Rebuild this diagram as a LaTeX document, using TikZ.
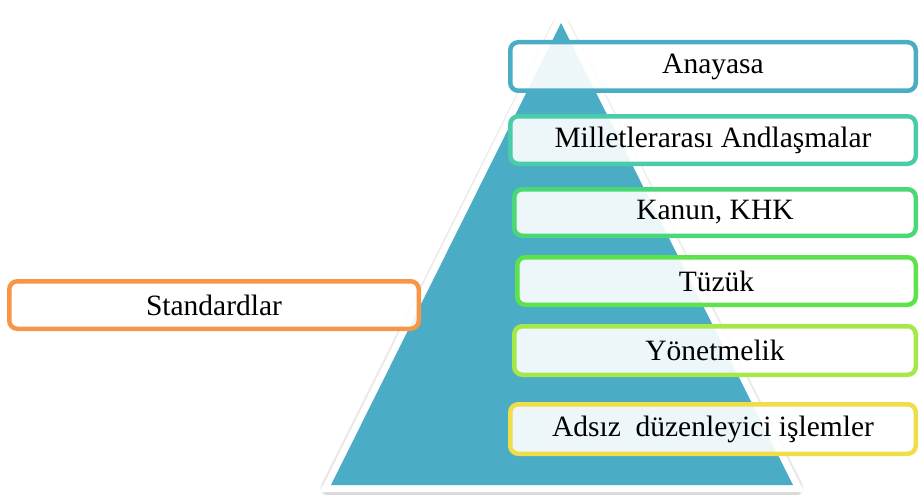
\documentclass[tikz,border=0pt]{standalone}
\usepackage{fontspec}
\setmainfont{Liberation Serif}
\definecolor{pyrteal}{RGB}{75,172,198}
\definecolor{lvlA}{RGB}{75,172,198}
\definecolor{lvlB}{RGB}{74,204,170}
\definecolor{lvlC}{RGB}{74,216,118}
\definecolor{lvlD}{RGB}{92,226,74}
\definecolor{lvlE}{RGB}{166,232,72}
\definecolor{lvlF}{RGB}{240,222,72}
\definecolor{lvlS}{RGB}{247,150,70}
\tikzset{
  levelbox/.style={draw=#1, line width=4.5pt, rounded corners=8pt,
    fill=white, fill opacity=0.9, text opacity=1, inner sep=0pt,
    font=\fontsize{29.5}{34}\selectfont, text=black},
}
\begin{document}
\begin{tikzpicture}[x=1pt,y=-1pt]
\useasboundingbox (0,0) rectangle (919,495);
% pyramid: soft shadow, white rim, teal body
\foreach \w/\o in {20/0.03,18/0.05,16/0.07}
  \draw[line width=\w pt, line join=round, draw=black, opacity=\o]
    (561,26) -- (794,488) -- (330,488) -- cycle;
\draw[line width=14pt, line join=miter, draw=white, fill=white]
  (561,23) -- (793,485) -- (331,485) -- cycle;
\fill[pyrteal] (561,23) -- (793,485) -- (331,485) -- cycle;
% levels
\node[levelbox=lvlA, minimum width=405.5pt, minimum height=48.5pt] (anayasa) at (713,66.5) {Anayasa};
\node[levelbox=lvlB, minimum width=405.5pt, minimum height=47.5pt] (andlasma) at (713,140) {Milletlerarası Andlaşmalar};
\node[levelbox=lvlC, minimum width=401.5pt, minimum height=46.5pt] (kanun) at (715,212.5) {Kanun, KHK};
\node[levelbox=lvlD, minimum width=398.5pt, minimum height=47.5pt] (tuzuk) at (716.5,281) {Tüzük};
\node[levelbox=lvlE, minimum width=401.5pt, minimum height=48.5pt] (yonetmelik) at (715,350.5) {Yönetmelik};
\node[levelbox=lvlF, minimum width=405.5pt, minimum height=49.5pt] (adsiz) at (713,429) {Adsız\ \ düzenleyici işlemler};
\node[levelbox=lvlS, minimum width=409.5pt, minimum height=47.5pt] (standart) at (214,305) {Standardlar};
\end{tikzpicture}
\end{document}
